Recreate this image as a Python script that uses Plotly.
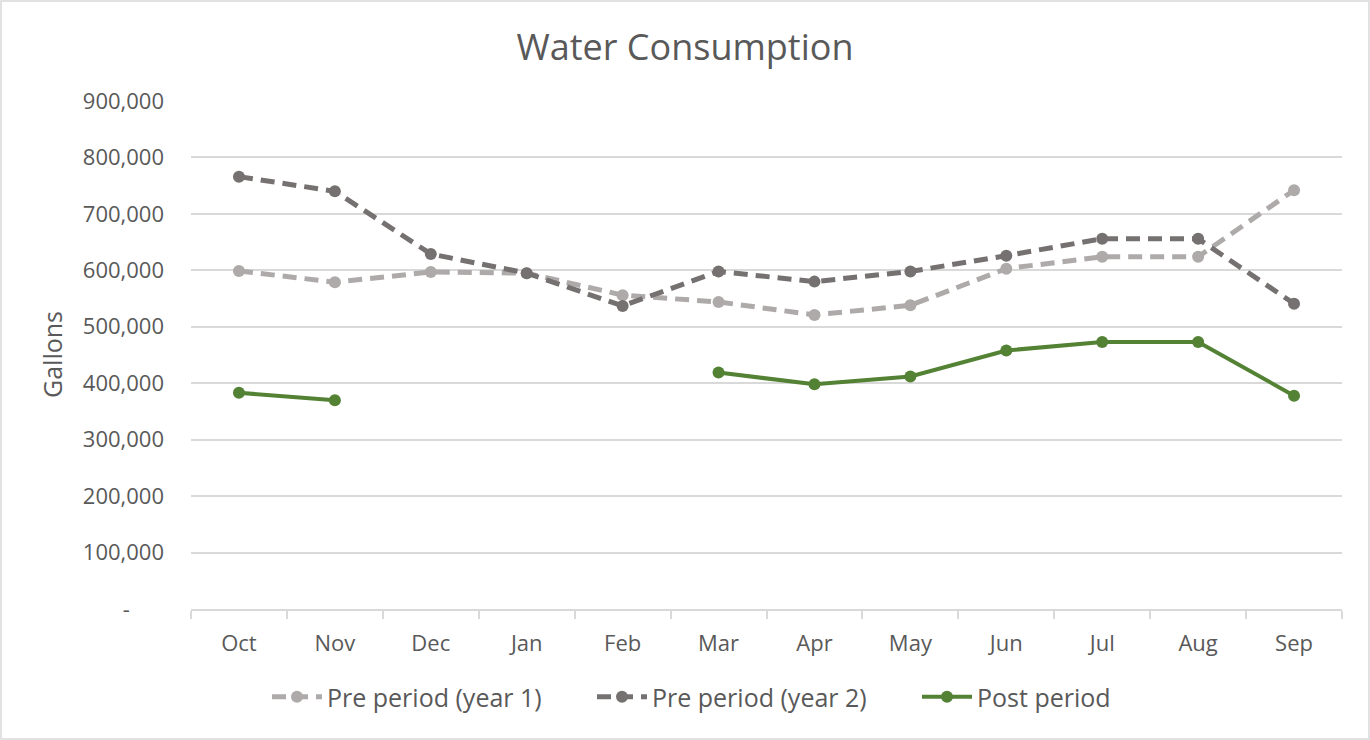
import plotly.graph_objects as go

months = ["Oct", "Nov", "Dec", "Jan", "Feb", "Mar", "Apr", "May", "Jun", "Jul", "Aug", "Sep"]
pre_year1 = [599000, 579000, 597000, 595000, 556000, 544000, 521000, 538000, 603000, 624000, 624000, 742000]
pre_year2 = [766000, 740000, 629000, 595000, 537000, 598000, 580000, 598000, 626000, 656000, 656000, 541000]
post_period = [383000, 370000, None, None, None, 419000, 398000, 412000, 458000, 473000, 473000, 378000]

y_tickvals = [0, 100000, 200000, 300000, 400000, 500000, 600000, 700000, 800000, 900000]
y_ticktext = ["-" + "\u00a0" * 6, "100,000", "200,000", "300,000", "400,000", "500,000",
              "600,000", "700,000", "800,000", "900,000"]

FONT = "Open Sans"
TXT = "#595959"
GRID = "#D9D9D9"

fig = go.Figure()
fig.add_trace(go.Scatter(
    x=months, y=pre_year1, name="Pre period (year 1)", mode="lines+markers",
    line=dict(color="#AEAAAA", width=5, dash="14px,8px"),
    marker=dict(color="#AEAAAA", size=12),
))
fig.add_trace(go.Scatter(
    x=months, y=pre_year2, name="Pre period (year 2)", mode="lines+markers",
    line=dict(color="#767171", width=5, dash="14px,8px"),
    marker=dict(color="#767171", size=12),
))
fig.add_trace(go.Scatter(
    x=months, y=post_period, name="Post period", mode="lines+markers",
    line=dict(color="#548235", width=4),
    marker=dict(color="#548235", size=12),
    connectgaps=False,
))

L, R, T, B = 191, 28, 101, 131
W, H = 1370, 740
pw, ph = W - L - R, H - T - B

fig.update_layout(
    width=W, height=H,
    margin=dict(l=L, r=R, t=T, b=B),
    paper_bgcolor="white", plot_bgcolor="white",
    font=dict(family=FONT, color=TXT),
    title=dict(text="Water Consumption", x=0.5, xanchor="center",
               y=1 - 47 / H, yanchor="middle",
               font=dict(family=FONT, size=36, color=TXT)),
    xaxis=dict(
        type="category", categoryorder="array", categoryarray=months,
        showgrid=False, showline=True, linecolor=GRID, linewidth=1.5,
        ticks="outside", tickson="boundaries", ticklen=8, tickcolor=GRID, tickwidth=1.5,
        ticklabelstandoff=14,
        tickfont=dict(family=FONT, size=22, color=TXT),
        range=[-0.5, 11.5], fixedrange=True,
    ),
    yaxis=dict(
        range=[0, 900000], tickvals=y_tickvals, ticktext=y_ticktext,
        showgrid=True, gridcolor=GRID, gridwidth=1.5,
        showline=False, zeroline=False, ticks="",
        ticklabelstandoff=26,
        tickfont=dict(family=FONT, size=22, color=TXT),
    ),
    legend=dict(orientation="h", x=(267 - L) / pw, xanchor="left",
                y=(609 - 697) / ph, yanchor="middle",
                font=dict(family=FONT, size=25, color=TXT),
                entrywidth=260, entrywidthmode="pixels",
                itemwidth=50, tracegroupgap=0),
    showlegend=True,
    annotations=[dict(text="Gallons", textangle=-90, xref="paper", yref="paper",
                      x=(52 - L) / pw, y=(609 - 355) / ph, xanchor="center", yanchor="middle",
                      showarrow=False, font=dict(family=FONT, size=25, color=TXT))],
    shapes=[dict(type="rect", xref="paper", yref="paper",
                 x0=(1 - L) / pw, x1=(W - 1 - L) / pw,
                 y0=-(B - 1) / ph, y1=1 + (T - 1) / ph,
                 line=dict(color=GRID, width=1.5), fillcolor="rgba(0,0,0,0)", layer="below")],
)

fig.write_html("out.html", config={"displayModeBar": False},
               post_script="document.body.style.margin='0';document.body.style.overflow='hidden';")
